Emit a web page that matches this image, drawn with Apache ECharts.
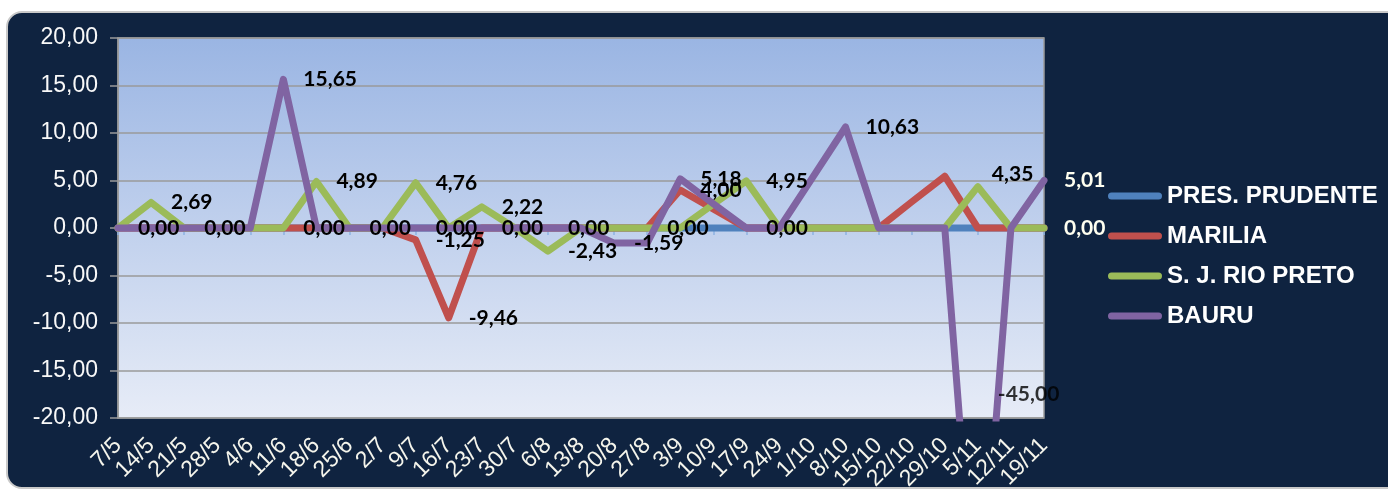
<!DOCTYPE html>
<html>
<head>
<meta charset="utf-8">
<script src="https://cdn.jsdelivr.net/npm/echarts@6/dist/echarts.min.js"></script>
<style>
  html, body { margin: 0; padding: 0; background: #ffffff; }
  #frame {
    position: absolute; left: 6px; top: 11px; width: 1400px; height: 474px;
    background: #0F2340; border: 2px solid #c9c9c9; border-radius: 16px;
  }
  #chart { position: absolute; left: 0; top: 0; width: 1388px; height: 493px; }
</style>
</head>
<body>
<div id="frame"></div>
<div id="chart"></div>
<script>
// ---- data ----
const categories = ['7/5','14/5','21/5','28/5','4/6','11/6','18/6','25/6','2/7','9/7','16/7','23/7','30/7','6/8','13/8','20/8','27/8','3/9','10/9','17/9','24/9','1/10','8/10','15/10','22/10','29/10','5/11','12/11','19/11'];
const seriesNames = ['PRES. PRUDENTE', 'MARILIA', 'S. J. RIO PRETO', 'BAURU'];
const presPrudente = [0,0,0,0,0,0,0,0,0,0,0,0,0,0,0,0,0,0,0,0,0,0,0,0,0,0,0,0,0];
const marilia      = [0,0,0,0,0,0,0,0,0,-1.25,-9.46,0,0,0,0,0,0,4.00,2.00,0,0,0,0,0,2.75,5.45,0,0,0];
const sjRioPreto   = [0,2.69,0,0,0,0,4.89,0,0,4.76,0,2.22,0,-2.43,0,0,0,0,2.50,4.95,0,0,0,0,0,0,4.35,0,0];
const bauru        = [0,0,0,0,0,15.65,0,0,0,0,0,0,0,0,0,-1.59,-1.59,5.18,2.55,0,0,5.30,10.63,0,0,0,-45.00,0,5.01];
const yTicks = [-20,-15,-10,-5,0,5,10,15,20];

// indices of points whose value label is shown
const labelsPres   = [0,2,5,7,9,11,13,16,19,28];
const labelsMar    = [9,10,17];
const labelsSjr    = [1,6,9,11,13,19,26];
const labelsBauru  = [5,15,17,22,26,28];

const Y_MIN = yTicks[0], Y_MAX = yTicks[yTicks.length-1];
const fmt = v => v.toFixed(2).replace('.', ',');

function build(values, labelIdx, opts) {
  opts = opts || {};
  return values.map((v, i) => {
    const item = { value: v };
    if (labelIdx.includes(i) && v >= Y_MIN && v <= Y_MAX) {
      item.label = { show: true };
      if (i === values.length - 1) item.label.color = '#FFFFF0';
      if (opts.offsets && opts.offsets[i]) item.label.offset = opts.offsets[i];
    }
    return item;
  });
}

// out-of-range labelled points: label carried at the axis limit
const outLabels = [];
[[presPrudente, labelsPres],[marilia, labelsMar],[sjRioPreto, labelsSjr],[bauru, labelsBauru]].forEach(([vals, idx]) => {
  idx.forEach(i => {
    const v = vals[i];
    if (v < Y_MIN || v > Y_MAX) outLabels.push({ value: [i, Math.min(Math.max(v, Y_MIN), Y_MAX)], real: v });
  });
});

const labelCommon = {
  show: false, position: 'right', distance: 20,
  fontFamily: 'Lato', fontWeight: 'bold', fontSize: 21, color: '#000',
  formatter: p => fmt(p.value)
};

function lineSeries(name, values, labelIdx, color, opts) {
  return {
    name, type: 'line', data: build(values, labelIdx, opts),
    symbol: 'circle', symbolSize: 0, showSymbol: true,
    lineStyle: { color, width: 7, join: 'round', cap: 'round' },
    itemStyle: { color },
    label: labelCommon,
    emphasis: { disabled: true },
    z: 3
  };
}

const chart = echarts.init(document.getElementById('chart'), null, { renderer: 'canvas' });
chart.setOption({
  animation: false,
  backgroundColor: 'transparent',
  grid: {
    left: 118, top: 38, right: 344, bottom: 75, show: true,
    borderColor: '#9a9a9a', borderWidth: 1.5,
    backgroundColor: new echarts.graphic.LinearGradient(0, 0, 0, 1, [
      { offset: 0, color: '#9AB5E3' },
      { offset: 1, color: '#E7ECF7' }
    ])
  },
  legend: {
    orient: 'vertical', left: 1103, top: 179,
    data: seriesNames,
    itemWidth: 54, itemHeight: 7, itemGap: 16,
    icon: 'path://M3.5,0 L50.5,0 A3.5,3.5 0 0 1 50.5,7 L3.5,7 A3.5,3.5 0 0 1 3.5,0 Z',
    textStyle: { color: '#FFFFFF', fontFamily: 'Liberation Sans', fontWeight: 'bold', fontSize: 24, lineHeight: 24 }
  },
  xAxis: [
    {
      type: 'category', data: categories, boundaryGap: false, position: 'bottom',
      axisLine: { onZero: false, show: false },
      axisTick: { show: false },
      axisLabel: { rotate: 45, margin: 24, interval: 0, color: '#F5F5EC', fontFamily: 'Liberation Sans', fontSize: 23 },
      splitLine: { show: false }
    },
    {
      type: 'category', data: categories, boundaryGap: false, position: 'top',
      axisLine: { onZero: true, lineStyle: { color: '#8DB3E2', width: 1.5 } },
      axisTick: { show: true, inside: true, length: 7, interval: 0, lineStyle: { color: '#8DB3E2', width: 1.5 } },
      axisLabel: { show: false },
      splitLine: { show: false }
    }
  ],
  yAxis: {
    type: 'value', min: Y_MIN, max: Y_MAX, interval: 5,
    axisLine: { show: true, lineStyle: { color: '#9a9a9a', width: 1.5 } },
    axisTick: { show: true, length: 8, lineStyle: { color: '#9a9a9a', width: 1.5 } },
    axisLabel: { margin: 20, color: '#F8F8F8', fontFamily: 'Liberation Sans', fontSize: 23, formatter: v => fmt(v) },
    splitLine: { show: true, lineStyle: { color: '#9a9a9a', width: 1.5 } }
  },
  series: [
    lineSeries(seriesNames[0], presPrudente, labelsPres, '#4F81BD'),
    lineSeries(seriesNames[1], marilia, labelsMar, '#C0504D'),
    lineSeries(seriesNames[2], sjRioPreto, labelsSjr, '#9BBB59', { offsets: { 26: [-6, -12] } }),
    lineSeries(seriesNames[3], bauru, labelsBauru, '#8064A2'),
    {
      name: 'out-of-range labels', type: 'scatter', data: outLabels,
      symbolSize: 0, clip: false, silent: true, z: 4,
      label: Object.assign({}, labelCommon, { show: true, offset: [0, -24], formatter: p => fmt(p.data.real) })
    }
  ]
});
</script>
</body>
</html>
